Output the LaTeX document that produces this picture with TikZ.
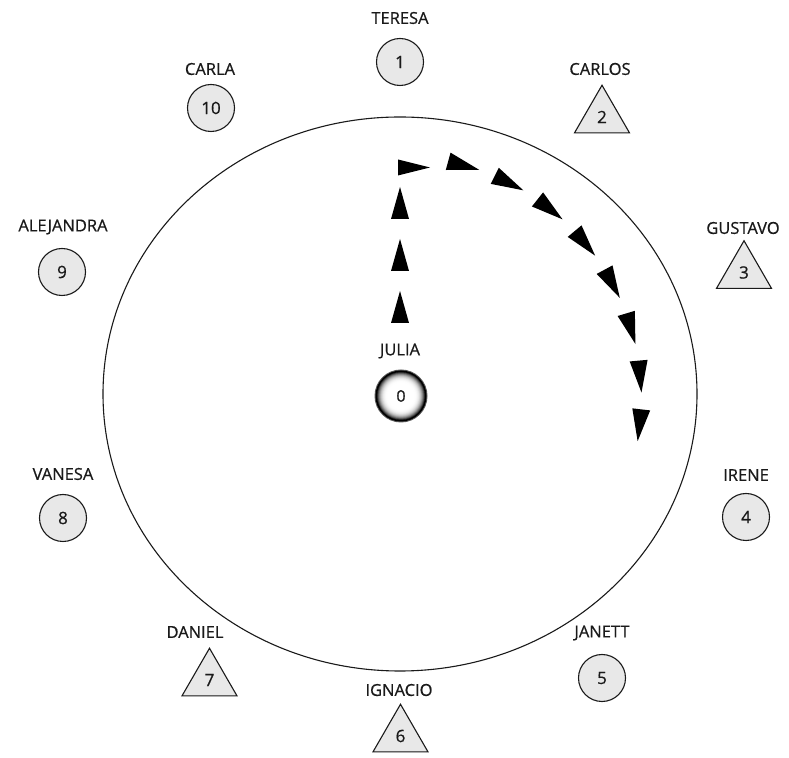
\documentclass[tikz,border=0pt]{standalone}
\usepackage{fontspec}
\setmainfont{Open Sans}[FakeBold=0.6]
\usetikzlibrary{shapes.geometric}
\definecolor{ink}{HTML}{1A1A1A}
\definecolor{shapefill}{HTML}{E8E8E8}
\tikzset{
  namelabel/.style={text=ink, font=\fontsize{16.5}{19}\selectfont, inner sep=0pt},
  seat/.style={circle, draw=ink, line width=1.1pt, fill=shapefill, minimum size=47pt, inner sep=0pt, text=ink, font=\fontsize{17}{19}\selectfont},
  triseat/.style={regular polygon, regular polygon sides=3, draw=ink, line width=1.1pt, fill=shapefill, minimum size=63.5pt, inner sep=0pt, text=ink, font=\fontsize{17}{19}\selectfont},
  centerseat/.style={circle, minimum size=52pt, inner sep=0pt, text=ink, font=\fontsize{16}{19}\selectfont},
  ring/.style={draw=ink, line width=1.1pt},
  arrowtri/.style={fill=black}
}
\begin{document}
\begin{tikzpicture}[x=1pt,y=1pt]
\useasboundingbox (0,0) rectangle (789,757);
\fill[white] (0,0) rectangle (789,757);
% big ring
\draw[ring] (400,363) ellipse [x radius=297, y radius=277];
% shaded ring of the centre seat
\fill[black!65] (401,361) circle (26.5);
\foreach \r in {25.5,25,...,12}{
  \pgfmathsetmacro{\t}{max(0,min(1,(\r-12.5)/(24.5-12.5)))}
  \pgfmathsetmacro{\p}{100*\t*\t*\t}
  \fill[black!\p!white] (401,361) circle (\r);
}
% seats
\node[seat] (s1) at (400,695) {1};
\node[namelabel] (n1) at (400,739) {TERESA};
\node[triseat] (s2) at (602,640) {2};
\node[namelabel] (n2) at (600,688) {CARLOS};
\node[triseat] (s3) at (744,484.5) {3};
\node[namelabel] (n3) at (743,529) {GUSTAVO};
\node[seat] (s4) at (746,240) {4};
\node[namelabel] (n4) at (746,282) {IRENE};
\node[seat] (s5) at (602,79) {5};
\node[namelabel] (n5) at (602,124) {JANETT};
\node[triseat] (s6) at (400.5,21) {6};
\node[namelabel] (n6) at (399,67) {IGNACIO};
\node[triseat] (s7) at (209.5,77) {7};
\node[namelabel] (n7) at (195,125) {DANIEL};
\node[seat] (s8) at (63,239) {8};
\node[namelabel] (n8) at (63,283) {VANESA};
\node[seat] (s9) at (62,485) {9};
\node[namelabel] (n9) at (63,530) {ALEJANDRA};
\node[seat] (s10) at (211,649) {10};
\node[namelabel] (n10) at (210,688) {CARLA};
\node[centerseat] (s0) at (401,361) {0};
\node[namelabel] (n0) at (400,406) {JULIA};
% arrowheads: straight part
\foreach \yy in {450,502,554}{
  \fill[arrowtri, shift={(400,\yy)}, rotate=90] (16,0) -- (-16,9) -- (-16,-9) -- cycle;
}
\fill[arrowtri, shift={(414,589.5)}] (16,0) -- (-16,8) -- (-16,-8) -- cycle;
% arrowheads: curved part
\foreach \a in {74.7,63.1,51.5,39.9,28.3,16.7,5.1,-6.5}{
  \fill[arrowtri, shift={(400,359)}, rotate=\a, shift={(241,0)}, rotate=-90] (16,0) -- (-16,9) -- (-16,-9) -- cycle;
}
\end{tikzpicture}
\end{document}
